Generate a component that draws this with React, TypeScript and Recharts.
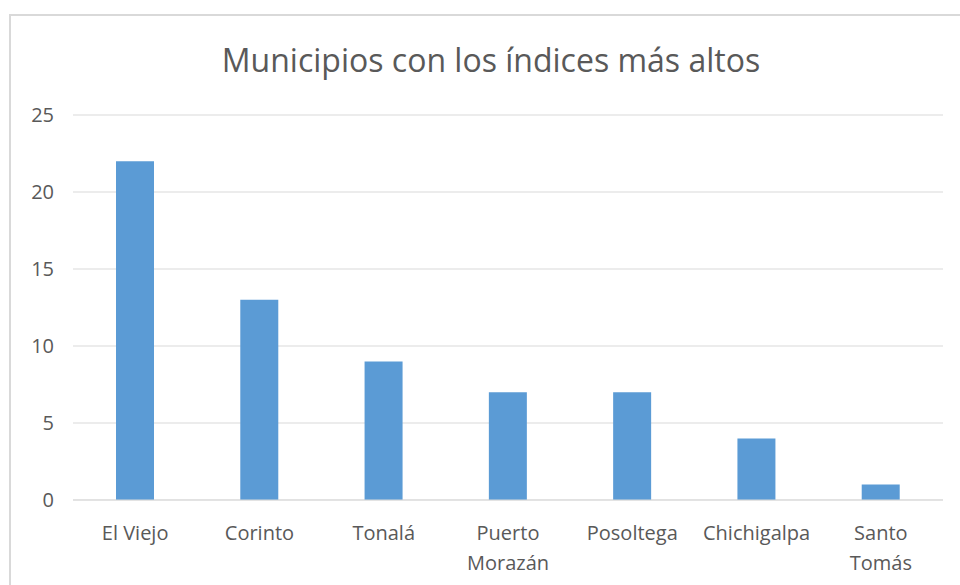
import React from 'react';
import { BarChart, Bar, XAxis, YAxis, CartesianGrid } from 'recharts';

// Categories and values
const municipios = ['El Viejo', 'Corinto', 'Tonalá', 'Puerto\nMorazán', 'Posoltega', 'Chichigalpa', 'Santo\nTomás'];
const indices = [22, 13, 9, 7, 7, 4, 1];
const yTicks = [0, 5, 10, 15, 20, 25];

const chartData = municipios.map((name, i) => ({ name, value: indices[i] }));

const FONT = '"Open Sans", "Noto Sans", sans-serif';
const TEXT = '#595959';

const CategoryTick = (props: any) => {
  const { x, y, payload } = props;
  const lines = String(payload.value).split('\n');
  return (
    <text x={x} y={y} textAnchor="middle" fill={TEXT} fontSize={20} fontFamily={FONT}>
      {lines.map((line, i) => (
        <tspan key={i} x={x} dy={i === 0 ? 32 : 30}>{line}</tspan>
      ))}
    </text>
  );
};

export default function App() {
  return (
    <div style={styles.page}>
      <div style={styles.frame} />
      <div style={styles.title}>Municipios con los índices más altos</div>
      <div style={styles.chart}>
        <BarChart
          width={960}
          height={585}
          data={chartData}
          margin={{ top: 115, right: 17, left: 0, bottom: 0 }}
        >
          <CartesianGrid vertical={false} stroke="#d9d9d9" strokeWidth={1} />
          <XAxis
            dataKey="name"
            axisLine={{ stroke: '#d9d9d9' }}
            tickLine={false}
            interval={0}
            tick={<CategoryTick />}
            height={85}
          />
          <YAxis
            domain={[0, 25]}
            ticks={yTicks}
            axisLine={false}
            tickLine={false}
            width={73}
            tickMargin={13}
            tick={{ fill: TEXT, fontSize: 20, fontFamily: FONT }}
          />
          <Bar dataKey="value" fill="#5b9bd5" barSize={38} isAnimationActive={false} />
        </BarChart>
      </div>
    </div>
  );
}

const styles = {
  page: {
    position: 'absolute',
    left: 0,
    top: 0,
    width: '960px',
    height: '585px',
    overflow: 'hidden',
    background: '#ffffff',
  } as React.CSSProperties,
  frame: {
    position: 'absolute',
    left: '9px',
    top: '14px',
    width: '1000px',
    height: '640px',
    border: '2px solid #d9d9d9',
  } as React.CSSProperties,
  title: {
    position: 'absolute',
    left: 0,
    top: '40px',
    width: '982px',
    textAlign: 'center' as const,
    fontSize: '32px',
    fontFamily: FONT,
    color: TEXT,
    lineHeight: '40px',
  } as React.CSSProperties,
  chart: {
    position: 'absolute',
    left: 0,
    top: 0,
  } as React.CSSProperties,
};
